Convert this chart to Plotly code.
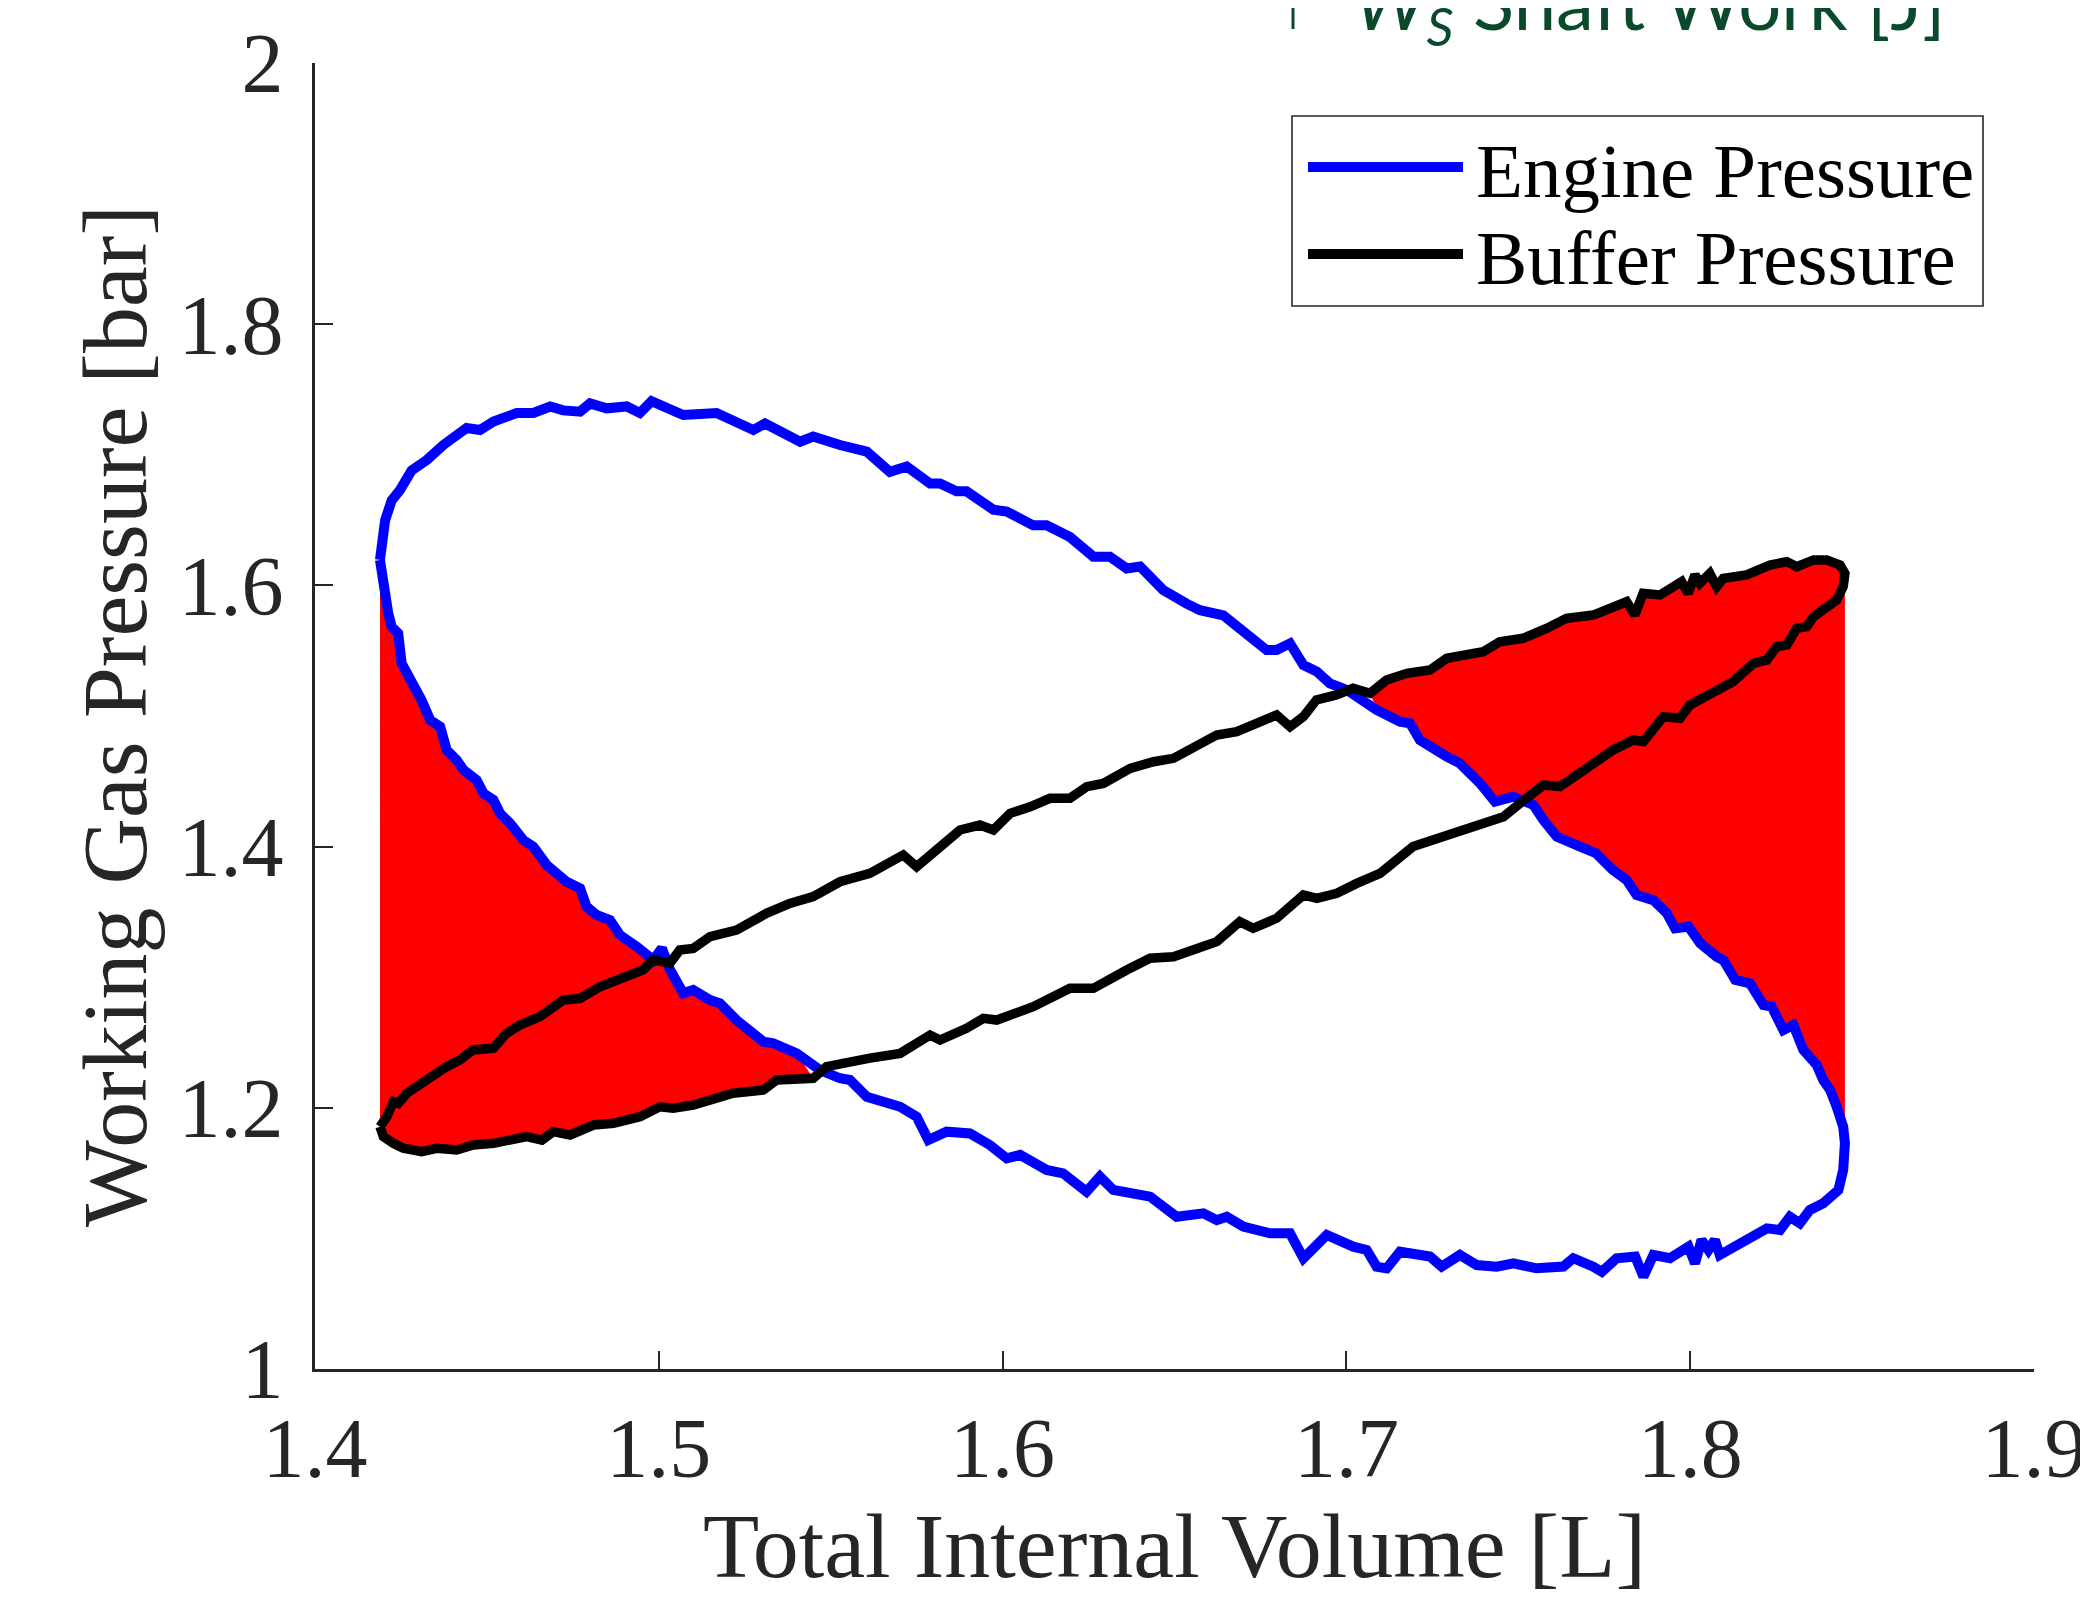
import plotly.graph_objects as go

# ---------------- data ----------------
# Engine pressure loop, upper branch (left -> right)
ENGINE_UP_V = [1.4189, 1.4194, 1.4204, 1.4223, 1.4247, 1.4281, 1.4325, 1.4373, 1.4441, 1.4480,
               1.4519, 1.4587, 1.4635, 1.4684, 1.4722, 1.4771, 1.4800, 1.4848, 1.4907, 1.4945,
               1.4979, 1.5071, 1.5168, 1.5275, 1.5309, 1.5411, 1.5449, 1.5527, 1.5605, 1.5672,
               1.5721, 1.5789, 1.5818, 1.5866, 1.5895, 1.5973, 1.6012, 1.6089, 1.6128, 1.6196,
               1.6264, 1.6312, 1.6361, 1.6400, 1.6467, 1.6535, 1.6574, 1.6642, 1.6700, 1.6768,
               1.6797, 1.6836, 1.6875, 1.6914, 1.6952, 1.7001, 1.7088, 1.7156, 1.7185, 1.7214,
               1.7292, 1.7330, 1.7389, 1.7432, 1.7486, 1.7544, 1.7573, 1.7612, 1.7680, 1.7726,
               1.7775, 1.7815, 1.7844, 1.7893, 1.7932, 1.7956, 1.7995, 1.8029, 1.8077, 1.8097,
               1.8131, 1.8174, 1.8213, 1.8237, 1.8271, 1.8300, 1.8329, 1.8368, 1.8387, 1.8407,
               1.8426, 1.8445, 1.8450]
ENGINE_UP_P = [1.6195, 1.6320, 1.6500, 1.6650, 1.6730, 1.6880, 1.6960, 1.7075, 1.7205, 1.7190,
               1.7254, 1.7320, 1.7320, 1.7370, 1.7340, 1.7330, 1.7394, 1.7356, 1.7370, 1.7320,
               1.7410, 1.7305, 1.7320, 1.7190, 1.7240, 1.7100, 1.7140, 1.7075, 1.7024, 1.6870,
               1.6910, 1.6780, 1.6780, 1.6720, 1.6720, 1.6580, 1.6565, 1.6460, 1.6460, 1.6370,
               1.6220, 1.6220, 1.6130, 1.6144, 1.5965, 1.5860, 1.5810, 1.5770, 1.5646, 1.5505,
               1.5505, 1.5556, 1.5390, 1.5340, 1.5250, 1.5200, 1.5046, 1.4956, 1.4944, 1.4816,
               1.4689, 1.4637, 1.4484, 1.4344, 1.4382, 1.4319, 1.4204, 1.4076, 1.4000, 1.3949,
               1.3821, 1.3744, 1.3630, 1.3590, 1.3490, 1.3374, 1.3387, 1.3260, 1.3157, 1.3130,
               1.2979, 1.2953, 1.2787, 1.2774, 1.2596, 1.2634, 1.2443, 1.2328, 1.2213, 1.2136,
               1.2008, 1.1855, 1.1728]

# Engine pressure loop, lower branch (left -> right)
ENGINE_LO_V = [1.4189, 1.4194, 1.4204, 1.4213, 1.4223, 1.4242, 1.4252, 1.4276, 1.4310, 1.4335,
               1.4364, 1.4383, 1.4412, 1.4432, 1.4470, 1.4490, 1.4519, 1.4538, 1.4567, 1.4606,
               1.4635, 1.4674, 1.4732, 1.4771, 1.4790, 1.4819, 1.4858, 1.4887, 1.4936, 1.4984,
               1.5009, 1.5033, 1.5071, 1.5100, 1.5149, 1.5178, 1.5226, 1.5304, 1.5333, 1.5401,
               1.5469, 1.5527, 1.5556, 1.5605, 1.5634, 1.5702, 1.5750, 1.5784, 1.5837, 1.5905,
               1.5963, 1.6012, 1.6051, 1.6128, 1.6176, 1.6244, 1.6283, 1.6322, 1.6429, 1.6506,
               1.6584, 1.6623, 1.6652, 1.6700, 1.6778, 1.6836, 1.6875, 1.6943, 1.7020, 1.7059,
               1.7088, 1.7117, 1.7156, 1.7243, 1.7277, 1.7330, 1.7379, 1.7437, 1.7486, 1.7553,
               1.7631, 1.7660, 1.7718, 1.7743, 1.7786, 1.7840, 1.7864, 1.7893, 1.7941, 1.7995,
               1.8014, 1.8033, 1.8053, 1.8072, 1.8086, 1.8106, 1.8164, 1.8223, 1.8261, 1.8290,
               1.8319, 1.8348, 1.8387, 1.8431, 1.8445, 1.8450, 1.8450]
ENGINE_LO_P = [1.6195, 1.6092, 1.5913, 1.5786, 1.5683, 1.5633, 1.5403, 1.5300, 1.5122, 1.4969,
               1.4918, 1.4740, 1.4663, 1.4587, 1.4510, 1.4408, 1.4357, 1.4255, 1.4180, 1.4050,
               1.4000, 1.3859, 1.3731, 1.3680, 1.3540, 1.3476, 1.3438, 1.3323, 1.3234, 1.3132,
               1.3221, 1.3055, 1.2877, 1.2902, 1.2825, 1.2800, 1.2672, 1.2506, 1.2494, 1.2417,
               1.2289, 1.2226, 1.2213, 1.2085, 1.2073, 1.2008, 1.1932, 1.1753, 1.1817, 1.1804,
               1.1715, 1.1613, 1.1639, 1.1524, 1.1498, 1.1358, 1.1473, 1.1371, 1.1320, 1.1166,
               1.1192, 1.1140, 1.1166, 1.1090, 1.1039, 1.1039, 1.0848, 1.1026, 1.0937, 1.0911,
               1.0784, 1.0771, 1.0898, 1.0861, 1.0784, 1.0873, 1.0796, 1.0784, 1.0809, 1.0771,
               1.0784, 1.0848, 1.0784, 1.0745, 1.0848, 1.0861, 1.0707, 1.0873, 1.0848, 1.0937,
               1.0809, 1.0988, 1.0911, 1.0988, 1.0873, 1.0911, 1.0988, 1.1077, 1.1064, 1.1166,
               1.1116, 1.1217, 1.1269, 1.1370, 1.1524, 1.1677, 1.1728]

# Buffer pressure loop, lower branch (left -> right)
BUFFER_LO_V = [1.4189, 1.4199, 1.4228, 1.4257, 1.4310, 1.4354, 1.4412, 1.4460, 1.4519, 1.4557,
               1.4616, 1.4660, 1.4693, 1.4742, 1.4810, 1.4868, 1.4945, 1.5003, 1.5042, 1.5100,
               1.5168, 1.5216, 1.5304, 1.5343, 1.5449, 1.5488, 1.5614, 1.5702, 1.5789, 1.5818,
               1.5895, 1.5944, 1.5983, 1.6041, 1.6089, 1.6196, 1.6264, 1.6361, 1.6429, 1.6497,
               1.6574, 1.6623, 1.6690, 1.6729, 1.6797, 1.6875, 1.6914, 1.6972, 1.7030, 1.7098,
               1.7194, 1.7312, 1.7380, 1.7457, 1.7505, 1.7573, 1.7621, 1.7679, 1.7728, 1.7776,
               1.7834, 1.7864, 1.7922, 1.7970, 1.7999, 1.8067, 1.8125, 1.8184, 1.8223, 1.8252,
               1.8281, 1.8310, 1.8339, 1.8359, 1.8397, 1.8426, 1.8445, 1.8450]
BUFFER_LO_P = [1.1855, 1.1779, 1.1728, 1.1690, 1.1664, 1.1690, 1.1677, 1.1715, 1.1728, 1.1753,
               1.1779, 1.1753, 1.1817, 1.1792, 1.1868, 1.1881, 1.1932, 1.2008, 1.1996, 1.2021,
               1.2085, 1.2111, 1.2136, 1.2213, 1.2226, 1.2315, 1.2380, 1.2417, 1.2557, 1.2519,
               1.2609, 1.2685, 1.2672, 1.2736, 1.2774, 1.2915, 1.2915, 1.3055, 1.3145, 1.3157,
               1.3221, 1.3272, 1.3425, 1.3374, 1.3451, 1.3630, 1.3604, 1.3642, 1.3718, 1.3795,
               1.4000, 1.4102, 1.4178, 1.4229, 1.4331, 1.4472, 1.4459, 1.4561, 1.4637, 1.4740,
               1.4816, 1.4803, 1.4995, 1.4982, 1.5084, 1.5186, 1.5263, 1.5403, 1.5429, 1.5531,
               1.5544, 1.5671, 1.5684, 1.5761, 1.5837, 1.5888, 1.5990, 1.6092]

# Buffer pressure loop, upper branch (left -> right)
BUFFER_UP_V = [1.4189, 1.4194, 1.4209, 1.4228, 1.4242, 1.4267, 1.4315, 1.4354, 1.4383, 1.4421,
               1.4460, 1.4519, 1.4557, 1.4596, 1.4654, 1.4722, 1.4771, 1.4829, 1.4906, 1.4954,
               1.4984, 1.5032, 1.5061, 1.5100, 1.5149, 1.5226, 1.5313, 1.5381, 1.5449, 1.5527,
               1.5614, 1.5711, 1.5750, 1.5808, 1.5827, 1.5876, 1.5934, 1.5973, 1.6022, 1.6080,
               1.6138, 1.6196, 1.6245, 1.6293, 1.6371, 1.6439, 1.6497, 1.6545, 1.6623, 1.6681,
               1.6729, 1.6797, 1.6836, 1.6875, 1.6913, 1.6971, 1.7019, 1.7069, 1.7117, 1.7176,
               1.7243, 1.7292, 1.7398, 1.7446, 1.7514, 1.7582, 1.7640, 1.7718, 1.7815, 1.7839,
               1.7863, 1.7912, 1.7975, 1.7994, 1.8014, 1.8028, 1.8057, 1.8077, 1.8096, 1.8164,
               1.8232, 1.8281, 1.8310, 1.8359, 1.8397, 1.8436, 1.8450]
BUFFER_UP_P = [1.1855, 1.1881, 1.1932, 1.2047, 1.2034, 1.2111, 1.2187, 1.2264, 1.2315, 1.2366,
               1.2443, 1.2456, 1.2570, 1.2634, 1.2698, 1.2825, 1.2838, 1.2927, 1.3004, 1.3055,
               1.3132, 1.3106, 1.3208, 1.3221, 1.3310, 1.3361, 1.3489, 1.3565, 1.3617, 1.3731,
               1.3795, 1.3936, 1.3846, 1.3974, 1.4025, 1.4127, 1.4165, 1.4127, 1.4255, 1.4305,
               1.4370, 1.4370, 1.4459, 1.4484, 1.4599, 1.4650, 1.4676, 1.4753, 1.4855, 1.4880,
               1.4944, 1.5008, 1.4918, 1.4995, 1.5123, 1.5161, 1.5212, 1.5174, 1.5276, 1.5327,
               1.5352, 1.5442, 1.5492, 1.5569, 1.5595, 1.5671, 1.5748, 1.5773, 1.5875, 1.5773,
               1.5939, 1.5927, 1.6029, 1.5939, 1.6080, 1.6016, 1.6092, 1.5990, 1.6054, 1.6080,
               1.6156, 1.6182, 1.6143, 1.6195, 1.6195, 1.6156, 1.6092]

# volumes where the two pressure curves cross (limits of the shaded shaft-work areas)
CROSS_LEFT_V = 1.546
CROSS_RIGHT_V = 1.705

X_TICKS = [1.4, 1.5, 1.6, 1.7, 1.8, 1.9]
X_TICK_TEXT = ["1.4", "1.5", "1.6", "1.7", "1.8", "1.9"]
Y_TICKS = [1.0, 1.2, 1.4, 1.6, 1.8, 2.0]
Y_TICK_TEXT = ["1", "1.2", "1.4", "1.6", "1.8", "2"]

LEGEND_NAMES = ["Engine Pressure", "Buffer Pressure"]

# ---------------- layout helpers ----------------
# the page body has an 8px margin, so the figure is drawn 8px smaller and
# all target screen positions are shifted by that offset
OFF = 8
W, H = 2088 - OFF, 1597 - OFF
PLOT_L, PLOT_R, PLOT_T, PLOT_B = 315, 2034, 63, 1369  # screen pixels
ML, MT = PLOT_L - OFF, PLOT_T - OFF
MR, MB = (OFF + W) - PLOT_R, (OFF + H) - PLOT_B
PW, PH = PLOT_R - PLOT_L, PLOT_B - PLOT_T


def px(x):
    return (x - PLOT_L) / PW


def py(y):
    return (PLOT_B - y) / PH


AX = "#262626"
SERIF = "Liberation Serif"

fig = go.Figure()

# shaded areas (engine vs buffer pressure)
left_x = [v for v in ENGINE_LO_V if v <= CROSS_LEFT_V]
left_y = [p for v, p in zip(ENGINE_LO_V, ENGINE_LO_P) if v <= CROSS_LEFT_V]
bl = [(v, p) for v, p in zip(BUFFER_LO_V, BUFFER_LO_P) if v <= CROSS_LEFT_V][::-1]
left_x += [v for v, _ in bl]
left_y += [p for _, p in bl]
fig.add_trace(go.Scatter(x=left_x, y=left_y, mode="lines", fill="toself",
                         fillcolor="#ff0000", line=dict(width=0, color="#ff0000"),
                         showlegend=False, hoverinfo="skip"))

right_x = [v for v in ENGINE_UP_V if v >= CROSS_RIGHT_V]
right_y = [p for v, p in zip(ENGINE_UP_V, ENGINE_UP_P) if v >= CROSS_RIGHT_V]
bu = [(v, p) for v, p in zip(BUFFER_UP_V, BUFFER_UP_P) if v >= CROSS_RIGHT_V][::-1]
right_x += [v for v, _ in bu]
right_y += [p for _, p in bu]
fig.add_trace(go.Scatter(x=right_x, y=right_y, mode="lines", fill="toself",
                         fillcolor="#ff0000", line=dict(width=0, color="#ff0000"),
                         showlegend=False, hoverinfo="skip"))

# engine pressure loop
fig.add_trace(go.Scatter(x=ENGINE_UP_V + ENGINE_LO_V[::-1], y=ENGINE_UP_P + ENGINE_LO_P[::-1],
                         mode="lines", name=LEGEND_NAMES[0],
                         line=dict(color="#0000ff", width=10), showlegend=False))
# buffer pressure loop
fig.add_trace(go.Scatter(x=BUFFER_LO_V + BUFFER_UP_V[::-1], y=BUFFER_LO_P + BUFFER_UP_P[::-1],
                         mode="lines", name=LEGEND_NAMES[1],
                         line=dict(color="#000000", width=9.5), showlegend=False))

shapes = []
annotations = []

# legend box
shapes.append(dict(type="rect", xref="paper", yref="paper",
                   x0=px(1292), x1=px(1983), y0=py(306), y1=py(116),
                   line=dict(color=AX, width=1.6), fillcolor="white", layer="above"))
for i, (col, ly, ty) in enumerate([("#0000ff", 167, 171), ("#000000", 254, 258)]):
    shapes.append(dict(type="line", xref="paper", yref="paper",
                       x0=px(1308), x1=px(1463), y0=py(ly), y1=py(ly),
                       line=dict(color=col, width=10), layer="above"))
    annotations.append(dict(text=LEGEND_NAMES[i], xref="paper", yref="paper",
                            x=px(1474), y=py(ty), xanchor="left", yanchor="middle",
                            showarrow=False, font=dict(family=SERIF, size=77, color="black")))

# partially visible label at the top edge (cropped in the original)
GREEN = "#0a4a2a"
shapes.append(dict(type="line", xref="paper", yref="paper",
                   x0=px(1293), x1=px(1293), y0=py(-10), y1=py(29),
                   line=dict(color=GREEN, width=3), layer="above"))
annotations.append(dict(text="<i>W<sub>S</sub></i> Shaft Work [J]", xref="paper", yref="paper",
                        x=px(1352), y=py(6), xanchor="left", yanchor="middle",
                        showarrow=False, font=dict(family="Lato", size=76, color=GREEN)))

fig.update_layout(
    width=W, height=H,
    margin=dict(l=ML, r=MR, t=MT, b=MB, autoexpand=False),
    paper_bgcolor="white", plot_bgcolor="white",
    showlegend=False,
    shapes=shapes, annotations=annotations,
    xaxis=dict(range=[1.4, 1.9], tickvals=X_TICKS, ticktext=X_TICK_TEXT,
               ticks="inside", ticklen=18, tickwidth=2, tickcolor=AX,
               showline=True, linecolor=AX, linewidth=2.5, showgrid=False, zeroline=False,
               tickfont=dict(family=SERIF, size=84, color=AX), ticklabelstandoff=4,
               title=dict(text="Total Internal Volume [L]", standoff=49,
                          font=dict(family=SERIF, size=92, color=AX)),
               automargin=False),
    yaxis=dict(range=[1.0, 2.0], tickvals=Y_TICKS, ticktext=Y_TICK_TEXT,
               ticks="inside", ticklen=18, tickwidth=2, tickcolor=AX,
               showline=True, linecolor=AX, linewidth=2.5, showgrid=False, zeroline=False,
               tickfont=dict(family=SERIF, size=84, color=AX), ticklabelstandoff=12,
               title=dict(text="Working Gas Pressure [bar]", standoff=2,
                          font=dict(family=SERIF, size=92, color=AX)),
               automargin=False),
)

fig.write_html("out.html")
